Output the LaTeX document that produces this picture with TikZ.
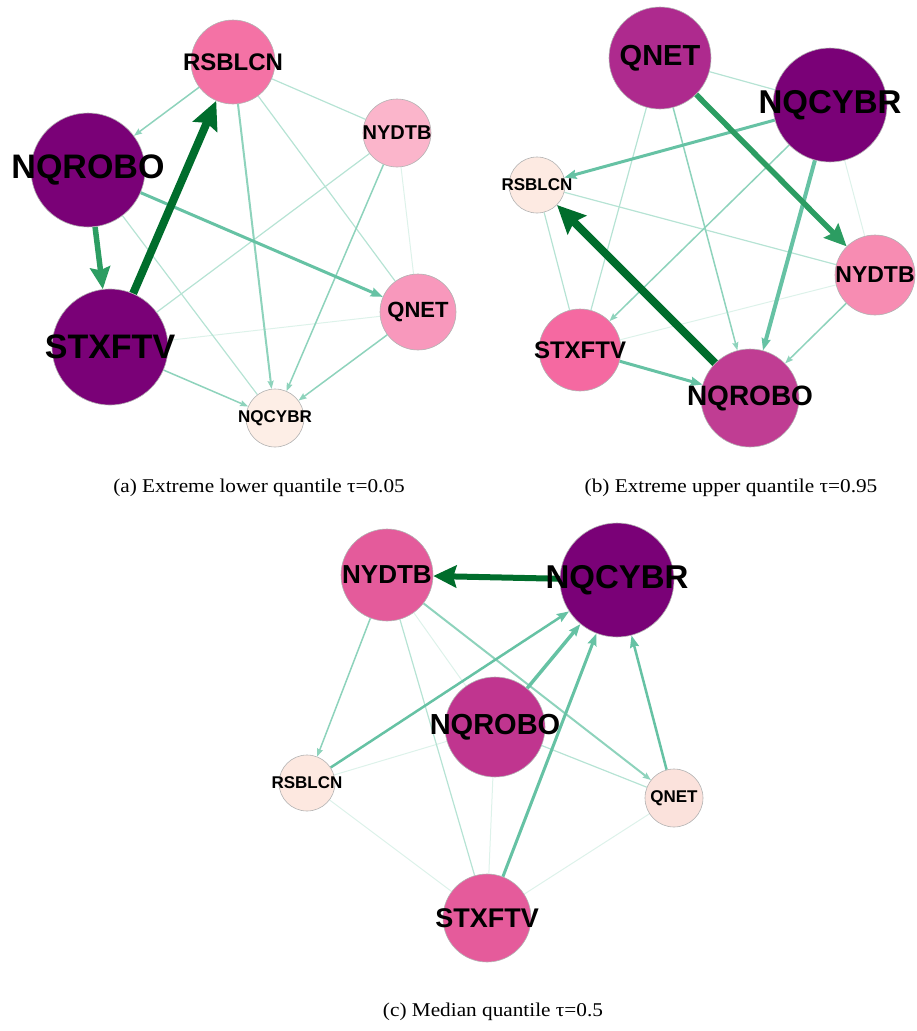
\documentclass[tikz,border=0pt]{standalone}
\usepackage{fontspec}
\setmainfont{Liberation Serif}
\newfontfamily\lblfont{Liberation Sans}
\usetikzlibrary{arrows.meta,backgrounds}

\definecolor{dpur}{HTML}{7A0177}
\definecolor{aRScol}{HTML}{F472A5}
\definecolor{aNYcol}{HTML}{FBB5CB}
\definecolor{aQNcol}{HTML}{F898BC}
\definecolor{aNCcol}{HTML}{FDEEE6}
\definecolor{bQNcol}{HTML}{AE2A8E}
\definecolor{bRScol}{HTML}{FDEAE2}
\definecolor{bNYcol}{HTML}{F78CB2}
\definecolor{bSTcol}{HTML}{F569A1}
\definecolor{bNRcol}{HTML}{C03D93}
\definecolor{cNYcol}{HTML}{E45B9B}
\definecolor{cNRcol}{HTML}{C0358F}
\definecolor{cRScol}{HTML}{FDE8E0}
\definecolor{cQNcol}{HTML}{FBE2DC}
\definecolor{cSTcol}{HTML}{E55B9B}
\definecolor{gA}{HTML}{006D2C}
\definecolor{gB}{HTML}{2C9D62}
\definecolor{gC}{HTML}{66C2A4}
\definecolor{gD}{HTML}{8ED3BC}
\definecolor{gE}{HTML}{B6E3D4}
\definecolor{gF}{HTML}{DDF2EA}

\tikzset{
  vtx/.style={circle, draw=black!30, line width=0.6pt, inner sep=0pt},
  captext/.style={font=\fontsize{19.5}{22}\selectfont, inner sep=0pt, xscale=1.09, transform shape},
  eA/.style={draw=gA, line width=8, -{Stealth[length=28pt,width=26pt,inset=4pt]}},
  eB/.style={draw=gB, line width=5.5, -{Stealth[length=22pt,width=20pt,inset=3pt]}},
  eC/.style={draw=gC, line width=3, -{Stealth[length=12pt,width=9pt,inset=1.5pt]}},
  eD/.style={draw=gD, line width=1.5, -{Stealth[length=8pt,width=6pt,inset=1pt]}},
  eE/.style={draw=gE, line width=1.2},
  eF/.style={draw=gF, line width=1}
}

\begin{document}
\begin{tikzpicture}[x=1pt, y=-1pt]
\useasboundingbox (0,0) rectangle (916,1031);

\foreach \id/\x/\y/\r/\fs/\col/\txt in {
  aRS/233/62/42/24/aRScol/RSBLCN, aNY/397/133/34/20/aNYcol/NYDTB,
  aNR/88/170/57/34/dpur/NQROBO, aQN/418/312/38/22/aQNcol/QNET,
  aST/110/347/58/34/dpur/STXFTV, aNC/275/418/29/17/aNCcol/NQCYBR,
  bQN/660/58/51/29/bQNcol/QNET, bNC/830/105/57/33/dpur/NQCYBR,
  bRS/537/185/28/17/bRScol/RSBLCN, bNY/875/275/40/23/bNYcol/NYDTB,
  bST/580/350/41/24/bSTcol/STXFTV, bNR/750/398/49/28/bNRcol/NQROBO,
  cNY/387/575/46/26/cNYcol/NYDTB, cNC/617/580/57/33/dpur/NQCYBR,
  cNR/495/727/50/29/cNRcol/NQROBO, cRS/307/783/28/17/cRScol/RSBLCN,
  cQN/674/798/29/17/cQNcol/QNET, cST/487/918/44/27/cSTcol/STXFTV}
  \node[vtx, fill=\col, minimum size=2*\r,
        label={[inner sep=0pt, font=\lblfont\bfseries\fontsize{\fs}{\fs}\selectfont]center:\txt}] (\id) at (\x,\y) {};

\node[captext] (capA) at (259,488) {(a) Extreme lower quantile τ=0.05};
\node[captext] (capB) at (731,488) {(b) Extreme upper quantile τ=0.95};
\node[captext] (capC) at (493,1012) {(c) Median quantile τ=0.5};

\begin{scope}[on background layer]
% (a)
\draw[eF] (aST) -- (aQN);
\draw[eF] (aNY) -- (aQN);
\draw[eE] (aNR) -- (aNC);
\draw[eE] (aNY) -- (aST);
\draw[eE] (aRS) -- (aNY);
\draw[eE] (aRS) -- (aQN);
\draw[eD] (aRS) -- (aNR);
\draw[eD, line width=2] (aRS) -- (aNC);
\draw[eD] (aNY) -- (aNC);
\draw[eD] (aQN) -- (aNC);
\draw[eD] (aST) -- (aNC);
\draw[eC] (aNR) -- (aQN);
\draw[eB] (aNR) -- (aST);
\draw[eA] (aST) -- (aRS);
% (b)
\draw[eF] (bNC) -- (bNY);
\draw[eF] (bST) -- (bNY);
\draw[eE] (bQN) -- (bST);
\draw[eE] (bQN) -- (bNC);
\draw[eE] (bRS) -- (bNY);
\draw[eE] (bRS) -- (bST);
\draw[eD] (bNC) -- (bST);
\draw[eD] (bQN) -- (bNR);
\draw[eD] (bNY) -- (bNR);
\draw[eC] (bST) -- (bNR);
\draw[eC] (bNC) -- (bRS);
\draw[eC, line width=4] (bNC) -- (bNR);
\draw[eB] (bQN) -- (bNY);
\draw[eA] (bNR) -- (bRS);
% (c)
\draw[eF] (cNY) -- (cNR);
\draw[eF] (cRS) -- (cNR);
\draw[eF] (cRS) -- (cST);
\draw[eF] (cQN) -- (cST);
\draw[eF] (cNR) -- (cST);
\draw[eE] (cNY) -- (cST);
\draw[eE] (cNR) -- (cQN);
\draw[eD] (cNY) -- (cRS);
\draw[eD, line width=2] (cNY) -- (cQN);
\draw[eC, line width=2.5] (cRS) -- (cNC);
\draw[eC, line width=2.5] (cQN) -- (cNC);
\draw[eC] (cST) -- (cNC);
\draw[eC, line width=3.5] (cNR) -- (cNC);
\draw[eA, line width=6, -{Stealth[length=23pt,width=22pt,inset=3pt]}] (cNC) -- (cNY);
\end{scope}
\end{tikzpicture}
\end{document}
